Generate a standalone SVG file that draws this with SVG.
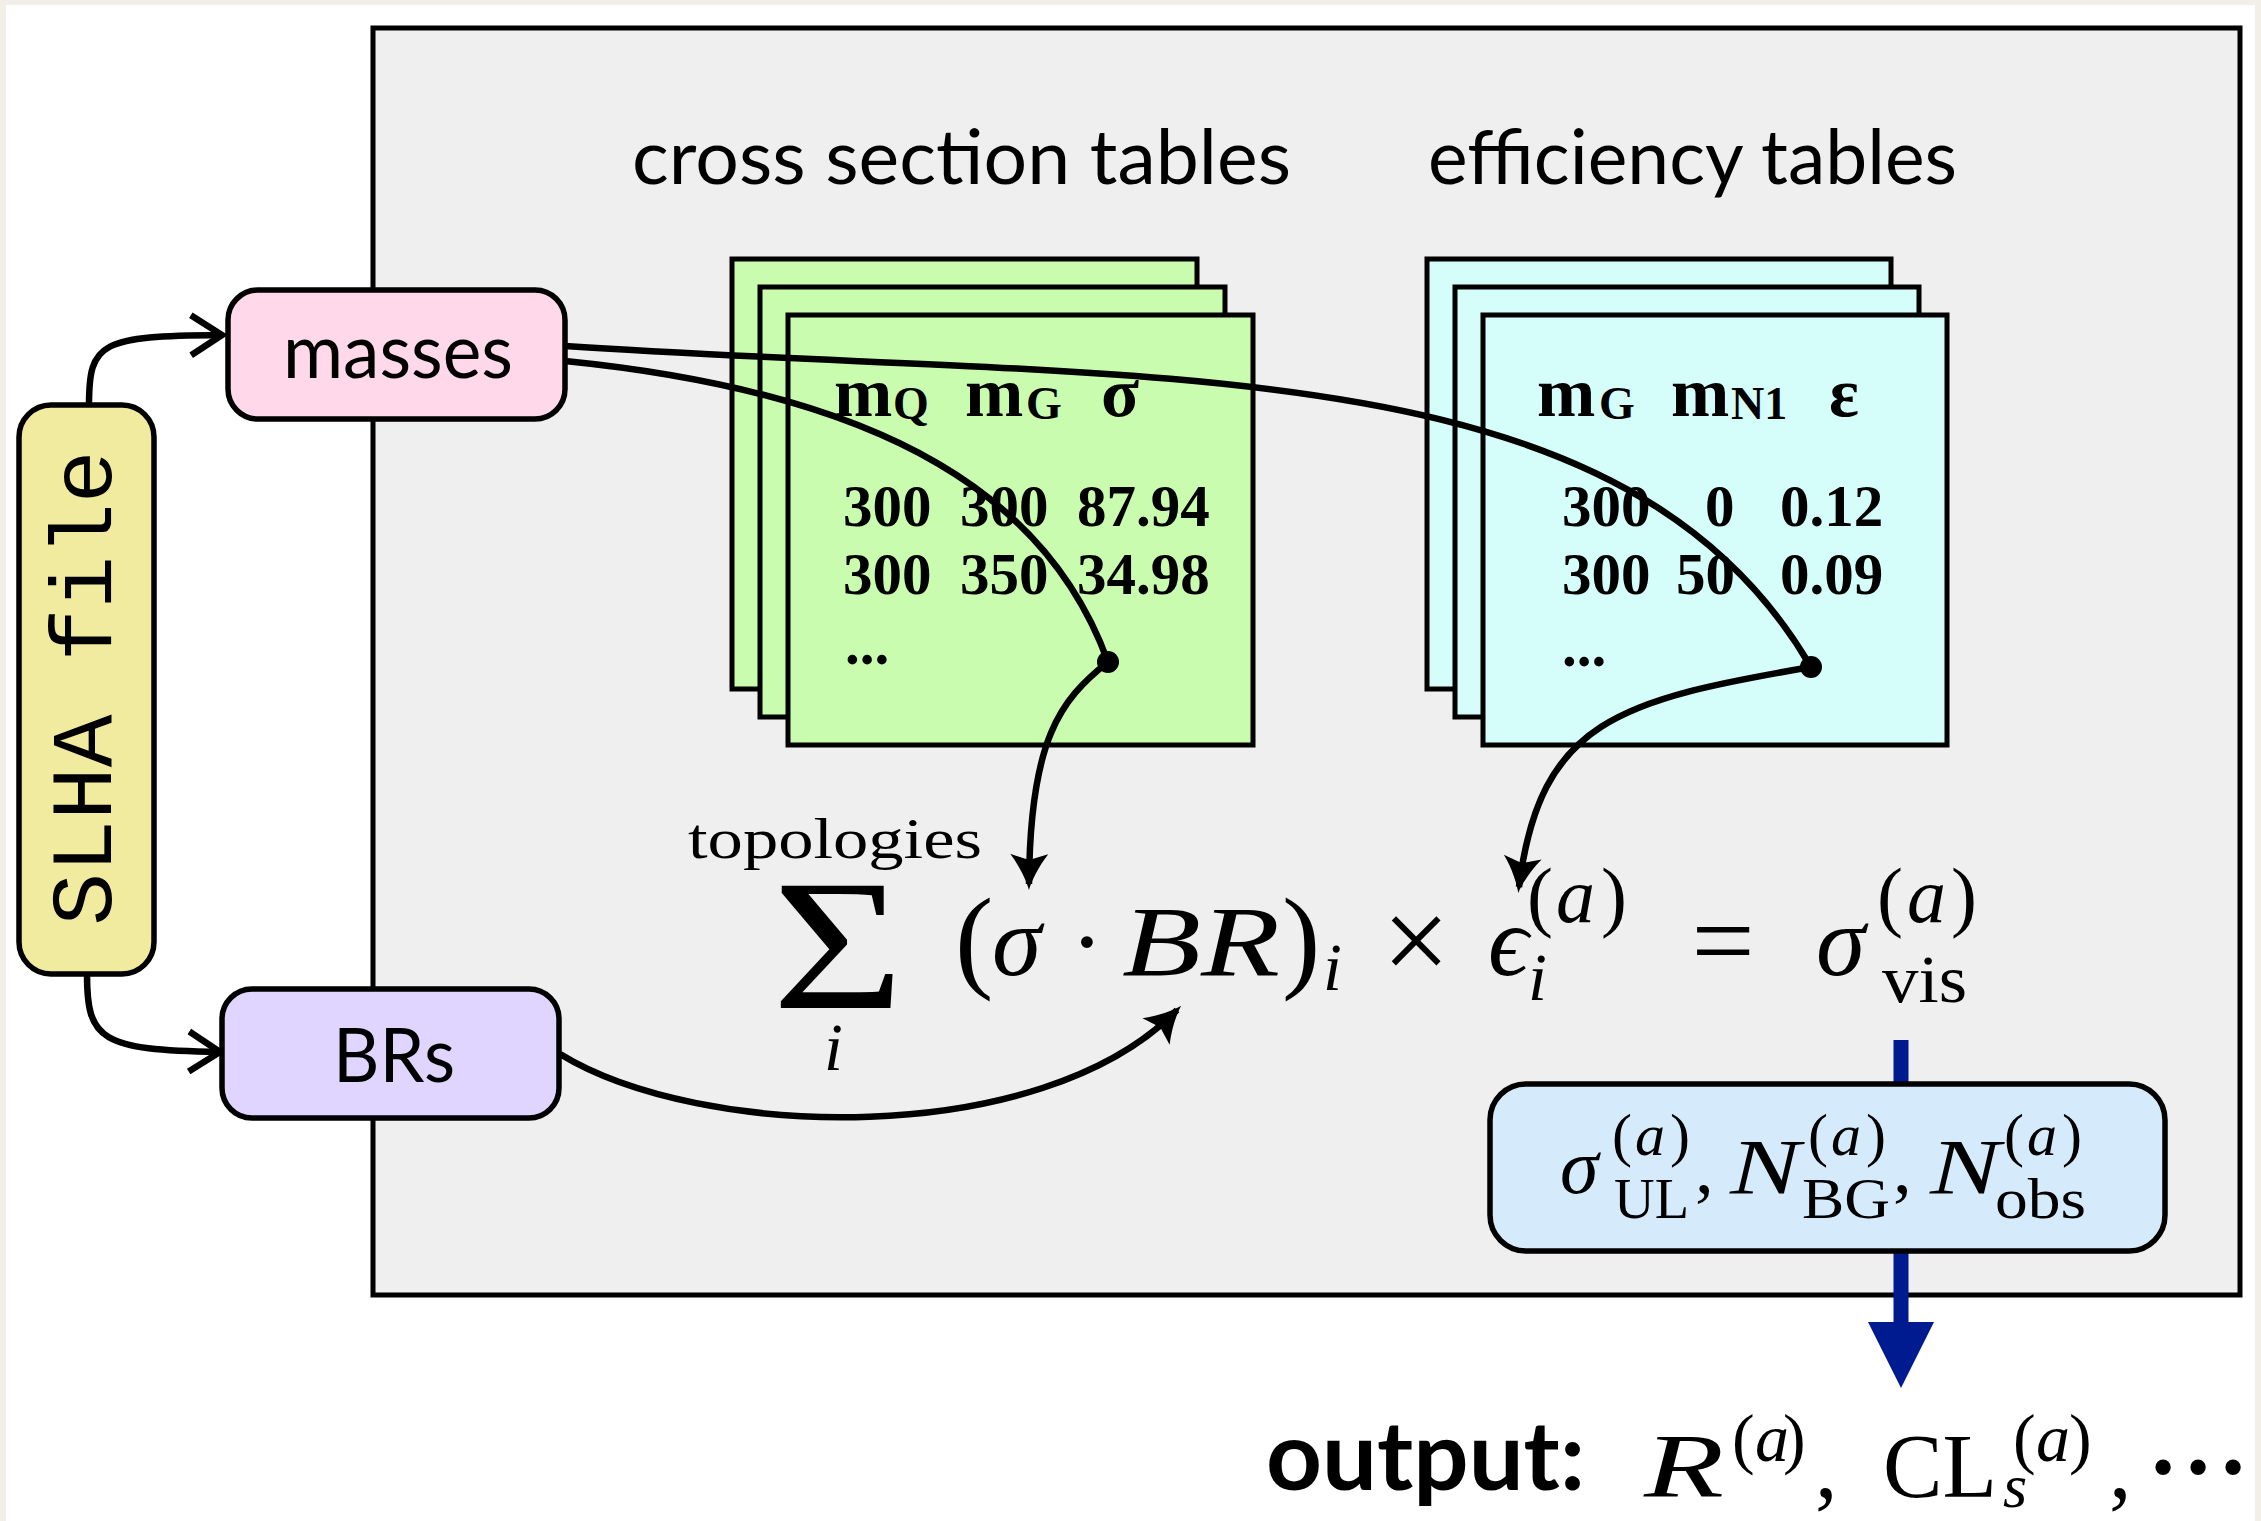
<svg xmlns="http://www.w3.org/2000/svg" width="2261" height="1521" viewBox="0 0 2261 1521">
  <style>
    .frame { fill: #efefef; stroke: #000; stroke-width: 5; }
    .sheetG { fill: #c9fcae; stroke: #000; stroke-width: 5; }
    .sheetC { fill: #d5fdfa; stroke: #000; stroke-width: 5; }
    .node { stroke: #000; stroke-width: 5.5; }
    .sans { font-family: Lato, "Open Sans", "Liberation Sans", sans-serif; fill: #000; }
    .mono { font-family: "Liberation Mono", "DejaVu Sans Mono", monospace; fill: #000; }
    .tbl { font-family: "Liberation Serif", "Times New Roman", serif; font-weight: bold; fill: #000; }
    .math { font-family: "Liberation Serif", "DejaVu Serif", serif; fill: #000; }
    .it { font-style: italic; }
    .wire { fill: none; stroke: #000; stroke-width: 6.5; }
    .blue { fill: none; stroke: #001b8f; stroke-width: 15; }
  </style>
  <defs>
    <marker id="open" markerUnits="userSpaceOnUse" markerWidth="44" markerHeight="50" viewBox="-5 -5 41 50" refX="31" refY="20" orient="auto" overflow="visible">
      <path d="M0,0 L31,20 L0,40" fill="none" stroke="#000" stroke-width="6.5"/>
    </marker>
    <marker id="latex" markerUnits="userSpaceOnUse" markerWidth="36" markerHeight="38" viewBox="0 0 36 38" refX="30" refY="19" orient="auto" overflow="visible">
      <path d="M36,19 C27,21.5 13,28 0,38 L6,19 L0,0 C13,10 27,16.5 36,19 Z" fill="#000"/>
    </marker>
    <marker id="bluehead" markerUnits="userSpaceOnUse" markerWidth="66" markerHeight="66" viewBox="0 0 66 66" refX="8" refY="33" orient="auto" overflow="visible">
      <path d="M0,0 L66,33 L0,66 Z" fill="#001b8f"/>
    </marker>
  </defs>

  <!-- page -->
  <rect x="0" y="0" width="2261" height="1521" fill="#f2efe9"/>
  <rect x="6" y="5" width="2249" height="1516" fill="#ffffff"/>

  <!-- lookup frame -->
  <g id="frame">
    <rect class="frame" x="373" y="28" width="1867" height="1267"/>
    <text class="sans" x="632" y="184" font-size="75" textLength="659" lengthAdjust="spacingAndGlyphs">cross section tables</text>
    <text class="sans" x="1428" y="184" font-size="75" textLength="529" lengthAdjust="spacingAndGlyphs">efficiency tables</text>
  </g>

  <!-- cross section table stack -->
  <g id="xsec-tables">
    <rect class="sheetG" x="732" y="259" width="465" height="430"/>
    <rect class="sheetG" x="760" y="287" width="465" height="430"/>
    <rect class="sheetG" x="788" y="315" width="465" height="430"/>
    <text class="tbl" y="416" font-size="70">
      <tspan x="834">m</tspan><tspan x="893" dy="3" font-size="46">Q</tspan>
      <tspan x="965" dy="-3">m</tspan><tspan x="1026" dy="3" font-size="46">G</tspan>
      <tspan x="1101" dy="-3">σ</tspan>
    </text>
    <text class="tbl" y="526" font-size="59"><tspan x="843">300</tspan><tspan x="960">300</tspan><tspan x="1077">87.94</tspan></text>
    <text class="tbl" y="594" font-size="59"><tspan x="843">300</tspan><tspan x="960">350</tspan><tspan x="1077">34.98</tspan></text>
    <text class="tbl" x="845" y="664" font-size="59">...</text>
  </g>

  <!-- efficiency table stack -->
  <g id="eff-tables">
    <rect class="sheetC" x="1427" y="259" width="464" height="430"/>
    <rect class="sheetC" x="1455" y="287" width="464" height="430"/>
    <rect class="sheetC" x="1483" y="315" width="464" height="430"/>
    <text class="tbl" y="416" font-size="70">
      <tspan x="1537">m</tspan><tspan x="1599" dy="3" font-size="46">G</tspan>
      <tspan x="1671" dy="-3">m</tspan><tspan x="1731" dy="3" font-size="46">N1</tspan>
      <tspan x="1829" dy="-3">ε</tspan>
    </text>
    <text class="tbl" y="526" font-size="59"><tspan x="1562">300</tspan><tspan x="1705">0</tspan><tspan x="1780">0.12</tspan></text>
    <text class="tbl" y="594" font-size="59"><tspan x="1562">300</tspan><tspan x="1676">50</tspan><tspan x="1780">0.09</tspan></text>
    <text class="tbl" x="1562" y="666" font-size="59">...</text>
  </g>

  <!-- visible cross section formula -->
  <g id="formula" class="math">
    <text x="688" y="858" font-size="58" textLength="294" lengthAdjust="spacingAndGlyphs">topologies</text>
    <text x="772" y="1008" font-size="186" textLength="132" lengthAdjust="spacingAndGlyphs">Σ</text>
    <text class="it" x="824" y="1070" font-size="68">i</text>
    <text x="955" y="977" font-size="115">(</text>
    <text class="it" x="992" y="975" font-size="100">σ</text>
    <text x="1087" y="975" font-size="100" text-anchor="middle">·</text>
    <text class="it" x="1122" y="975" font-size="100" textLength="158" lengthAdjust="spacingAndGlyphs">BR</text>
    <text x="1282" y="977" font-size="115">)</text>
    <text class="it" x="1323" y="990" font-size="68">i</text>
    <text x="1416" y="981" font-size="120" text-anchor="middle">×</text>
    <text class="it" x="1488" y="975" font-size="100">ϵ</text>
    <text class="it" x="1528" y="1000" font-size="68">i</text>
    <text y="922" font-size="78"><tspan x="1527">(</tspan><tspan class="it" x="1556">a</tspan><tspan x="1601">)</tspan></text>
    <text x="1723" y="978" font-size="112" text-anchor="middle">=</text>
    <text class="it" x="1816" y="975" font-size="100">σ</text>
    <text y="922" font-size="78"><tspan x="1877">(</tspan><tspan class="it" x="1907">a</tspan><tspan x="1951">)</tspan></text>
    <text x="1882" y="1002" font-size="68" textLength="85" lengthAdjust="spacingAndGlyphs">vis</text>
  </g>

  <!-- connectors -->
  <g id="connectors">
    <path class="wire" d="M89 405 C89 342 100 336 222 335" marker-end="url(#open)"/>
    <path class="wire" d="M87 974 C87 1040 100 1050 220 1052" marker-end="url(#open)"/>
    <path class="wire" d="M565 346 C1150 385 1620 340 1811 667"/>
    <path class="wire" d="M565 361 C895 394 1050 502 1108 662"/>
    <path class="wire" d="M1108 662 C1060 700 1030 740 1029 884" marker-end="url(#latex)"/>
    <path class="wire" d="M1811 667 C1620 700 1540 720 1519 887" marker-end="url(#latex)"/>
    <path class="wire" d="M560 1054 C700 1140 1040 1150 1177 1010" marker-end="url(#latex)"/>
    <circle cx="1108" cy="662" r="11" fill="#000"/>
    <circle cx="1811" cy="667" r="11" fill="#000"/>
    <path class="blue" d="M1901 1040 L1901 1330" marker-end="url(#bluehead)"/>
  </g>

  <!-- per-analysis results -->
  <g id="results">
    <rect class="node" x="1490" y="1084" width="675" height="167" rx="36" fill="#d5ebfb"/>
    <g class="math">
      <text class="it" x="1560" y="1193" font-size="78">σ</text>
      <text y="1155" font-size="60"><tspan x="1612">(</tspan><tspan class="it" x="1635">a</tspan><tspan x="1670">)</tspan></text>
      <text x="1614" y="1218" font-size="57" textLength="75" lengthAdjust="spacingAndGlyphs">UL</text>
      <text x="1695" y="1193" font-size="75">,</text>
      <text class="it" x="1730" y="1193" font-size="78" textLength="70" lengthAdjust="spacingAndGlyphs">N</text>
      <text y="1155" font-size="60"><tspan x="1808">(</tspan><tspan class="it" x="1831">a</tspan><tspan x="1866">)</tspan></text>
      <text x="1802" y="1218" font-size="57" textLength="88" lengthAdjust="spacingAndGlyphs">BG</text>
      <text x="1893" y="1193" font-size="75">,</text>
      <text class="it" x="1930" y="1193" font-size="78" textLength="70" lengthAdjust="spacingAndGlyphs">N</text>
      <text y="1155" font-size="60"><tspan x="2004">(</tspan><tspan class="it" x="2027">a</tspan><tspan x="2062">)</tspan></text>
      <text x="1995" y="1218" font-size="57" textLength="91" lengthAdjust="spacingAndGlyphs">obs</text>
    </g>
  </g>

  <!-- input nodes -->
  <g id="masses">
    <rect class="node" x="228" y="290" width="337" height="129" rx="30" fill="#ffd8e9"/>
    <text class="sans" x="283" y="378" font-size="75" textLength="230" lengthAdjust="spacingAndGlyphs">masses</text>
  </g>
  <g id="brs">
    <rect class="node" x="222" y="989" width="337" height="129" rx="30" fill="#e0d5fe"/>
    <text class="sans" x="333" y="1082" font-size="76" textLength="122" lengthAdjust="spacingAndGlyphs">BRs</text>
  </g>
  <g id="slha">
    <rect class="node" x="19" y="405" width="135" height="569" rx="32" fill="#f1eba0"/>
    <text class="mono" transform="translate(111 688) rotate(-90)" x="0" y="0" font-size="88" text-anchor="middle">SLHA file</text>
  </g>

  <!-- final output -->
  <g id="output">
    <text class="sans" x="1266" y="1490" font-size="96" font-weight="bold" textLength="319" lengthAdjust="spacingAndGlyphs">output:</text>
    <g class="math">
      <text class="it" x="1644" y="1497" font-size="92" textLength="80" lengthAdjust="spacingAndGlyphs">R</text>
      <text y="1461" font-size="68"><tspan x="1732">(</tspan><tspan class="it" x="1755">a</tspan><tspan x="1783">)</tspan></text>
      <text x="1815" y="1497" font-size="90">,</text>
      <text x="1883" y="1497" font-size="92" textLength="114" lengthAdjust="spacingAndGlyphs">CL</text>
      <text class="it" x="2003" y="1507" font-size="62">s</text>
      <text y="1461" font-size="68"><tspan x="2013">(</tspan><tspan class="it" x="2036">a</tspan><tspan x="2069">)</tspan></text>
      <text x="2109" y="1497" font-size="90">,</text>
      <text y="1499" font-size="95" font-weight="bold" text-anchor="middle"><tspan x="2163">·</tspan><tspan x="2198">·</tspan><tspan x="2233">·</tspan></text>
    </g>
  </g>
</svg>
